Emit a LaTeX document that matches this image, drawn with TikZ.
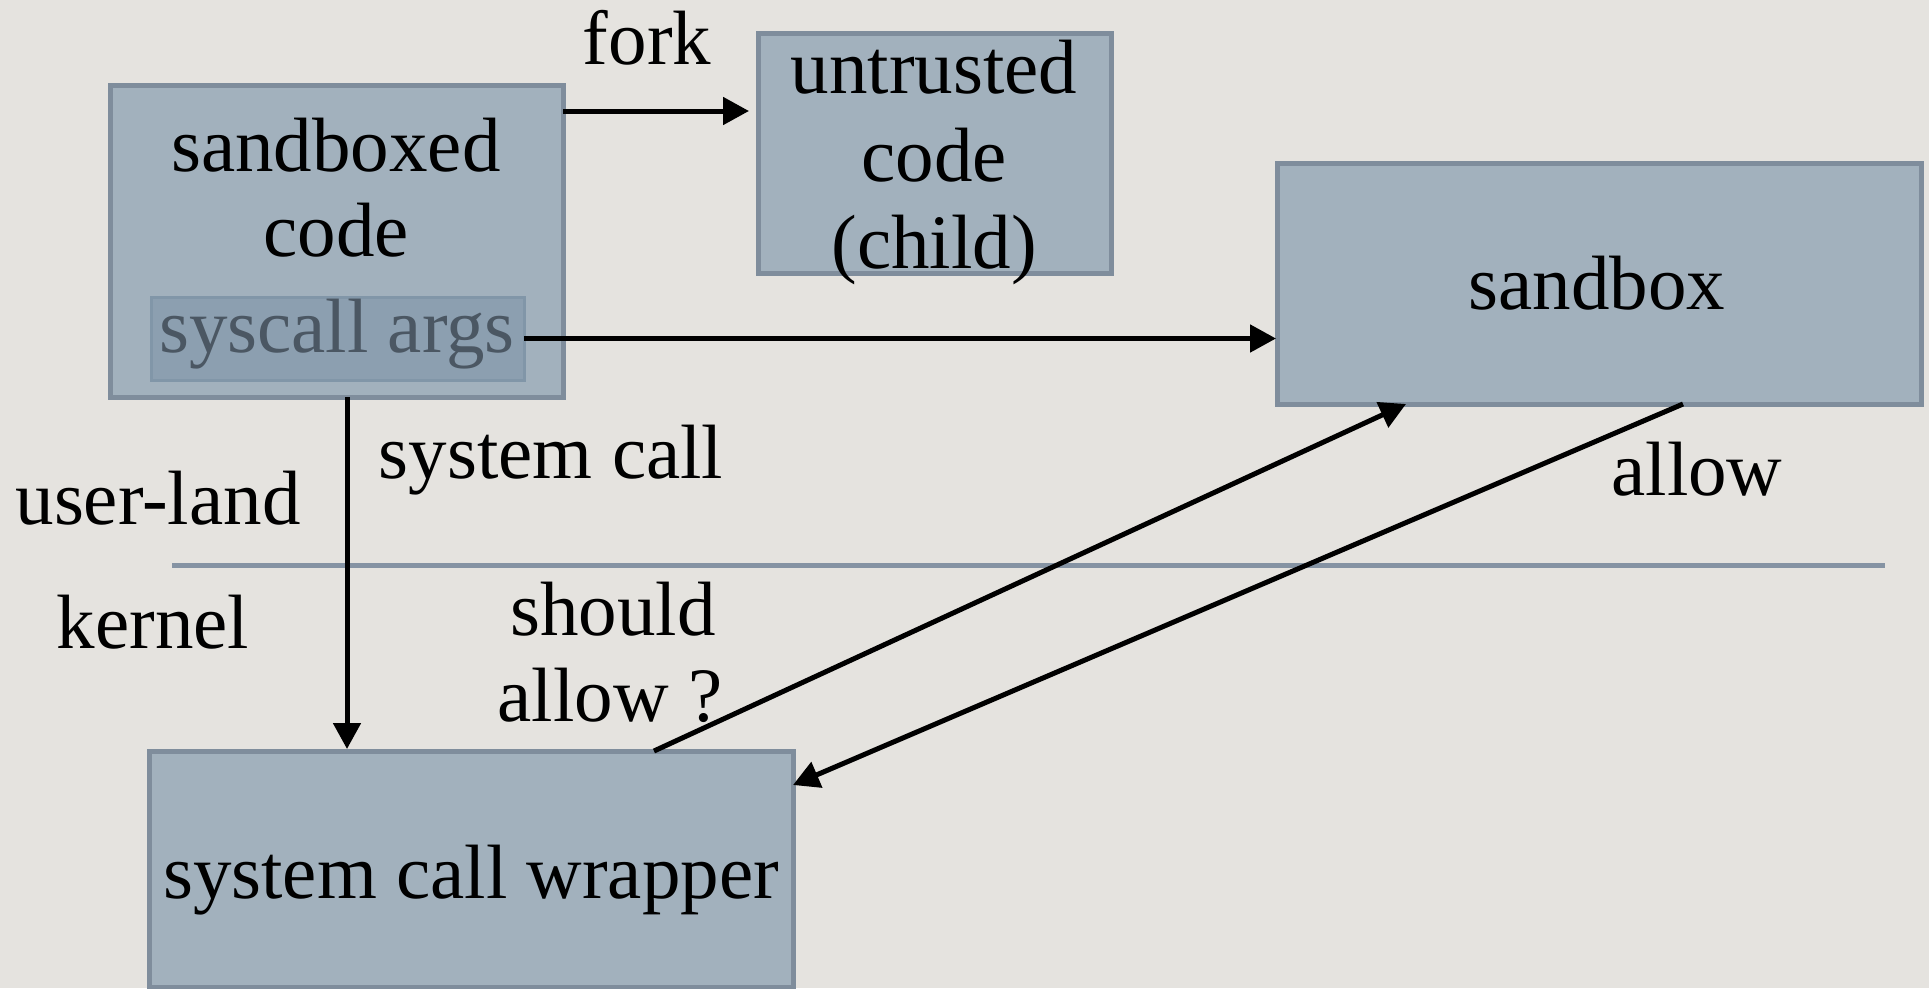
\documentclass[tikz,border=0pt]{standalone}
\usepackage{fontspec}
\setmainfont{Liberation Serif}
\usetikzlibrary{arrows.meta}
\definecolor{bg}{HTML}{E5E3DF}
\definecolor{boxfill}{HTML}{A2B1BD}
\definecolor{boxline}{HTML}{7F8D9C}
\definecolor{argfill}{HTML}{8C9FB0}
\definecolor{argline}{HTML}{8196A8}
\definecolor{argtext}{HTML}{4B5763}
\definecolor{sepline}{HTML}{8593A3}
\begin{document}
\begin{tikzpicture}[x=1pt,y=-1pt,
  box/.style={draw=boxline, fill=boxfill, line width=5pt, inner sep=0pt, outer sep=0pt},
  argbox/.style={draw=argline, fill=argfill, line width=3pt, inner sep=0pt, outer sep=0pt},
  lbl/.style={font=\fontsize{77}{85}\selectfont, anchor=base, inner sep=0pt},
  arr/.style={line width=5pt, -{Triangle[length=26pt,width=27pt]}}]
\fill[bg] (0,0) rectangle (1929,988);
\useasboundingbox (0,0) rectangle (1929,988);

% boxes
\node[box, minimum width=453pt, minimum height=312pt] (sc) at (336.5,241) {};
\node[argbox, minimum width=373pt, minimum height=83pt] (sa) at (337.5,338.5) {};
\node[box, minimum width=353pt, minimum height=240pt] (ut) at (934.5,153) {};
\node[box, minimum width=644pt, minimum height=241pt] (sb) at (1599,283.5) {};
\node[box, minimum width=644pt, minimum height=236pt] (wr) at (471,869) {};

% user-land / kernel separator
\draw[sepline, line width=5pt] (172,565) -- (1885,565);

% helper coordinates
\coordinate (fy) at (0,111);
\coordinate (vx) at (347,0);
\coordinate (q1) at (654,0);
\coordinate (q2) at (1406,0);
\coordinate (a1) at (1683,0);
\coordinate (a2) at (0,785);

% connectors
\draw[arr, shorten >=9pt] (sc.east |- fy) -- (ut.west |- fy);
\draw[arr, shorten >=1pt] (sa.east) -- (sb.west |- sa.east);
\draw[arr, shorten >=2pt] (sc.south -| vx) -- (wr.north -| vx);
\draw[arr] (wr.north -| q1) -- (sb.south -| q2);
\draw[arr] (sb.south -| a1) -- (wr.east |- a2);

% texts
\node[lbl] (t1) at (336,171) {sandboxed};
\node[lbl] (t2) at (336,256) {code};
\node[lbl, text=argtext] (t3) at (337,352) {syscall args};
\node[lbl] (u1) at (934,93) {untrusted};
\node[lbl] (u2) at (934,181) {code};
\node[lbl] (u3) at (934,268) {(child)};
\node[lbl] (sbt) at (1597,309) {sandbox};
\node[lbl] (wrt) at (471,898) {system call wrapper};
\node[lbl] (fork) at (647,64) {fork};
\node[lbl] (syscall) at (551,478) {system call};
\node[lbl] (user) at (158,524) {user-land};
\node[lbl] (kern) at (153,648) {kernel};
\node[lbl] (sh1) at (613,635) {should};
\node[lbl] (sh2) at (610,721) {allow ?};
\node[lbl] (allow) at (1697,495) {allow};
\end{tikzpicture}
\end{document}
